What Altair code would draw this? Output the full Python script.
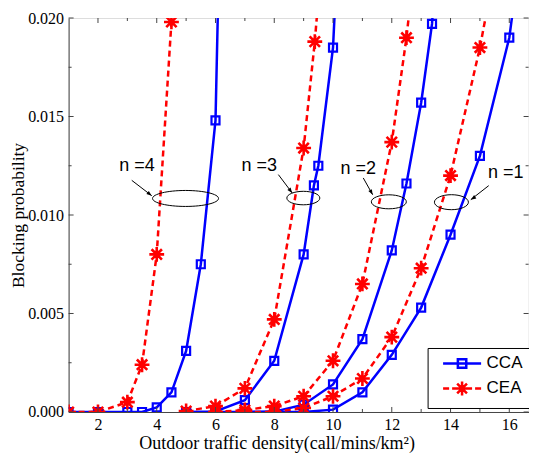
import altair as alt
import pandas as pd

# ---------------- data ----------------
methods = ["CCA", "CEA"]
colors = ["#0000FF", "#FF0000"]

# n = 4
cca4_x = [1, 2, 3, 3.5, 4, 4.5, 5, 5.5, 6, 6.5]
cca4_y = [0, 0, 0, 0.0, 0.00023, 0.0010, 0.0031, 0.0075, 0.0148, 0.049]
cea4_x = [1, 2, 3, 3.5, 4, 4.5]
cea4_y = [0, 0, 0.0005, 0.0024, 0.0080, 0.0198]
# n = 3
cca3_x = [5, 6, 7, 8, 9, 9.35, 9.5, 10, 10.5]
cca3_y = [0, 0.00003, 0.0006, 0.0026, 0.0080, 0.0115, 0.0125, 0.0185, 0.034]
cea3_x = [5, 6, 7, 8, 9, 9.38, 10]
cea3_y = [0.00005, 0.0003, 0.0012, 0.0047, 0.0134, 0.0188, 0.030]
# n = 2
cca2_x = [6, 7, 8, 9, 10, 11, 12, 12.5, 13, 13.37, 14]
cca2_y = [0, 0, 0.00002, 0.00037, 0.0014, 0.0037, 0.0082, 0.0116, 0.0157, 0.0197, 0.035]
cea2_x = [6, 7, 8, 9, 10, 11, 12, 12.5, 13]
cea2_y = [0, 0.0001, 0.0003, 0.0008, 0.0026, 0.0065, 0.0137, 0.0190, 0.0258]
# n = 1
cca1_x = [7, 8, 9, 10, 11, 12, 13, 14, 15, 16, 17]
cca1_y = [0, 0, 0, 0.00012, 0.0010, 0.0029, 0.0053, 0.0090, 0.0130, 0.0190, 0.0303]
cea1_x = [7, 8, 9, 10, 11, 12, 13, 14, 15, 16]
cea1_y = [0, 0, 0.0002, 0.0008, 0.0017, 0.0038, 0.0073, 0.0120, 0.0185, 0.0264]

# annotations
ann_label = ["n =4", "n =3", "n =2", "n =1"]
ann_text_x = [3.33, 7.49, 10.86, 15.88]
ann_text_y = [0.01247, 0.01247, 0.01233, 0.01213]
ell_x = [4.98, 8.99, 11.9, 14.03]
ell_y = [0.01084, 0.01086, 0.01067, 0.01065]
arr_x1 = [3.15, 8.14, 11.03, 15.3]
arr_y1 = [0.01176, 0.01205, 0.01188, 0.01149]
arr_x2 = [3.83, 8.61, 11.35, 14.69]
arr_y2 = [0.01098, 0.01112, 0.01103, 0.01078]

# axis ticks
x_major = [2, 4, 6, 8, 10, 12, 14, 16]
x_minor = [3, 5, 7, 9, 11, 13, 15]
y_major = [0.0, 0.005, 0.010, 0.015, 0.020]
y_minor = [0.0025, 0.0075, 0.0125, 0.0175]

# ---------------- styles ----------------
W, H = 460, 394
X_DOM = [1, 1 + W / 29.38]
Y_DOM = [0, 0.02]
SERIF = "Liberation Serif"
SANS = "Liberation Sans"

# ellipse shapes (w, h in px) and arrow angles (deg)
ell_w = [66, 33, 35, 34]
ell_h = [16, 13.5, 14, 15]
arr_angle = [37.4, 52.6, 60.6, 147.0]

ASTERISK = "M-1,0L1,0M0,-1L0,1M-0.7,-0.7L0.7,0.7M-0.7,0.7L0.7,-0.7"
# legend symbols: unit = 7 px (symbolSize 196), drawn to the right of the symbol anchor
LEG_CCA = "M0,0L5.43,0M2.11,-0.6L3.31,-0.6L3.31,0.6L2.11,0.6Z"
LEG_CEA = ("M0,0L0.86,0M1.29,0L1.79,0M3.64,0L4.14,0M4.57,0L5.43,0"
           "M1.71,0L3.71,0M2.71,-1L2.71,1M2.01,-0.7L3.41,0.7M2.01,0.7L3.41,-0.7")
ARROW = "M0,0L-1,-0.38L-1,0.38Z"

# ---------------- tables ----------------
rows = []
for n, (cx, cy, ex, ey) in {
    4: (cca4_x, cca4_y, cea4_x, cea4_y),
    3: (cca3_x, cca3_y, cea3_x, cea3_y),
    2: (cca2_x, cca2_y, cea2_x, cea2_y),
    1: (cca1_x, cca1_y, cea1_x, cea1_y),
}.items():
    for x, y in zip(cx, cy):
        rows.append({"x": x, "y": y, "method": "CCA", "series": f"CCA{n}"})
    for x, y in zip(ex, ey):
        rows.append({"x": x, "y": y, "method": "CEA", "series": f"CEA{n}"})
df = pd.DataFrame(rows)

ann = pd.DataFrame({
    "label": ann_label, "tx": ann_text_x, "ty": ann_text_y,
    "ex": ell_x, "ey": ell_y,
    "x1": arr_x1, "y1": arr_y1, "x2": arr_x2, "y2": arr_y2,
})
ann["angle"] = arr_angle

xs = alt.Scale(domain=X_DOM, nice=False, zero=False)
ys = alt.Scale(domain=Y_DOM, nice=False, zero=False)

X = alt.X("x:Q", scale=xs, axis=alt.Axis(
    values=x_major, format="d", ticks=False, grid=False, labelFont=SERIF,
    labelFontSize=16, labelColor="black", labelPadding=5, domainColor="#444",
    title="Outdoor traffic density(call/mins/km²)", titleFont=SERIF,
    titleFontSize=18, titleFontWeight="normal", titleColor="black",
    titlePadding=2, titleX=208, titleAnchor="start", titleAlign="center"))
Y = alt.Y("y:Q", scale=ys, axis=alt.Axis(
    values=y_major, format=".3f", ticks=False, grid=False, labelFont=SERIF,
    labelFontSize=16, labelColor="black", labelPadding=5, domainColor="#444",
    title="Blocking probability", titleFont=SERIF, titleFontSize=17.5,
    titleFontWeight="normal", titleColor="black", titlePadding=0))

line_cca = alt.Chart(df).transform_filter(alt.datum.method == "CCA").mark_line(
    clip=True, strokeWidth=2.5, color="#0000FF"
).encode(x=X, y=Y, detail="series:N", order=alt.Order("x:Q"))

line_cea = alt.Chart(df).transform_filter(alt.datum.method == "CEA").mark_line(
    clip=True, strokeWidth=2.5, color="#FF0000", strokeDash=[6, 4]
).encode(x="x:Q", y="y:Q", detail="series:N", order=alt.Order("x:Q"))

squares = alt.Chart(df).transform_filter(alt.datum.method == "CCA").mark_point(
    clip=True, shape="square", filled=False, size=64, strokeWidth=2.2, color="#0000FF", opacity=1
).encode(x="x:Q", y="y:Q")

stars = alt.Chart(df).transform_filter(alt.datum.method == "CEA").mark_point(
    clip=True, shape=ASTERISK, filled=False, size=220, strokeWidth=2.6, color="#FF0000", opacity=1
).encode(x="x:Q", y="y:Q")

legend_df = pd.DataFrame({"method": methods})
leg = alt.Legend(title=None, orient="none", legendX=359, legendY=330, strokeColor="black",
                 fillColor="white", padding=7, symbolSize=196, symbolStrokeWidth=2.5,
                 labelFont=SANS, labelFontSize=17, labelColor="black", labelOffset=35,
                 rowPadding=3, cornerRadius=0)
legend_layer = alt.Chart(legend_df).mark_point(clip=True, filled=False, opacity=1).encode(
    x=alt.value(-200), y=alt.value(-200),
    stroke=alt.Stroke("method:N", scale=alt.Scale(domain=methods, range=colors), legend=leg),
    shape=alt.Shape("method:N", scale=alt.Scale(domain=methods, range=[LEG_CCA, LEG_CEA]), legend=leg),
)

ellipse_layers = []
for lab, w, h in zip(ann_label, ell_w, ell_h):
    r = h / w
    path = f"M-1,0A1,{r:.3f},0,1,0,1,0A1,{r:.3f},0,1,0,-1,0"
    ellipse_layers.append(
        alt.Chart(ann).transform_filter(alt.datum.label == lab).mark_point(
            filled=False, color="black", strokeWidth=1, opacity=1, shape=path, size=w * w
        ).encode(x="ex:Q", y="ey:Q")
    )

arrow_lines = alt.Chart(ann).mark_rule(color="black", strokeWidth=1).encode(
    x="x1:Q", y="y1:Q", x2="x2:Q", y2="y2:Q")
arrow_heads = alt.Chart(ann).mark_point(filled=True, color="black", shape=ARROW, size=110, opacity=1).encode(
    x="x2:Q", y="y2:Q", angle=alt.Angle("angle:Q", scale=None))
labels = alt.Chart(ann).mark_text(font=SANS, fontSize=18, color="black", align="center", baseline="middle").encode(
    x="tx:Q", y="ty:Q", text="label:N")

# inward ticks
def xticks(vals, length):
    d = pd.DataFrame({"v": vals})
    b = alt.Chart(d).mark_rule(color="#444", strokeWidth=1)
    return (b.encode(x=alt.X("v:Q", scale=xs), y=alt.value(H), y2=alt.value(H - length)) +
            b.encode(x=alt.X("v:Q", scale=xs), y=alt.value(0), y2=alt.value(length)))

def yticks(vals, length):
    d = pd.DataFrame({"v": vals})
    b = alt.Chart(d).mark_rule(color="#444", strokeWidth=1)
    return (b.encode(y=alt.Y("v:Q", scale=ys), x=alt.value(0), x2=alt.value(length)) +
            b.encode(y=alt.Y("v:Q", scale=ys), x=alt.value(W), x2=alt.value(W - length)))

chart = alt.layer(
    line_cca, line_cea, squares, stars, legend_layer, *ellipse_layers, arrow_lines, arrow_heads, labels,
    xticks(x_major, 5), xticks(x_minor, 3), yticks(y_major, 5), yticks(y_minor, 3),
).properties(
    width=W, height=H,
    padding={"left": 60.6, "top": 10, "right": 0, "bottom": 41},
    autosize=alt.AutoSizeParams(type="none"),
).configure_view(stroke="#444", strokeWidth=1).configure(background="white")

chart.save("out.html", embed_options={"renderer": "svg", "actions": False})
